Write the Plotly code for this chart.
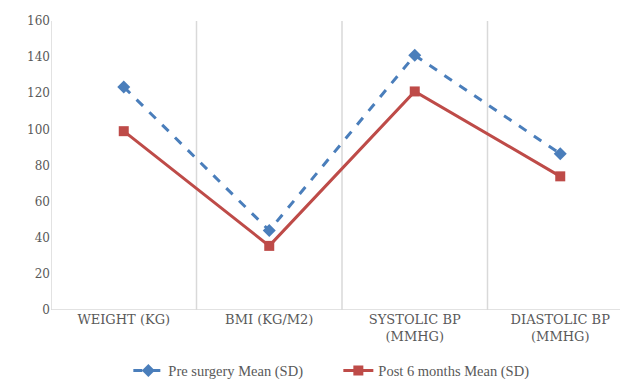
import plotly.graph_objects as go

categories = ["WEIGHT (KG)", "BMI (KG/M2)", "SYSTOLIC BP<br>(MMHG)", "DIASTOLIC BP<br>(MMHG)"]
pre_surgery = [123.5, 44, 141, 86.5]
post_6_months = [99, 35.5, 121, 74]
y_ticks = [0, 20, 40, 60, 80, 100, 120, 140, 160]

x_idx = list(range(len(categories)))

fig = go.Figure()
fig.add_trace(go.Scatter(
    x=x_idx, y=pre_surgery, mode="lines+markers", name="Pre surgery Mean (SD)",
    line=dict(color="#4a7ebb", width=3, dash="dash"),
    marker=dict(symbol="diamond", size=10, color="#4a7ebb"),
))
fig.add_trace(go.Scatter(
    x=x_idx, y=post_6_months, mode="lines+markers", name="Post 6 months Mean (SD)",
    line=dict(color="#be4b48", width=3),
    marker=dict(symbol="square", size=10, color="#be4b48"),
))

# category separator gridlines
for b in [-0.5, 0.5, 1.5, 2.5]:
    fig.add_shape(type="line", xref="x", yref="y", x0=b, x1=b, y0=0, y1=160,
                  line=dict(color="#d9d9d9", width=1.5), layer="below")
fig.add_shape(type="line", xref="x", yref="y", x0=-0.5, x1=3.5, y0=0, y1=0,
              line=dict(color="#d9d9d9", width=1.5), layer="below")

fig.update_layout(
    width=620, height=379,
    margin=dict(l=51, r=0, t=21, b=69, autoexpand=False),
    plot_bgcolor="white", paper_bgcolor="white",
    font=dict(family="DejaVu Serif", color="#595959", size=12),
    xaxis=dict(
        range=[-0.5, -0.5 + 569 / 145.5], automargin=False,
        tickmode="array", tickvals=x_idx, ticktext=categories,
        showgrid=False, zeroline=False, showline=False, ticks="",
        tickfont=dict(family="DejaVu Serif", size=13, color="#595959"),
    ),
    yaxis=dict(
        range=[0, 160], tickmode="array", tickvals=y_ticks, automargin=False,
        showgrid=False, zeroline=False, showline=False, ticks="",
        tickfont=dict(family="DejaVu Serif", size=12, color="#595959"),
    ),
    legend=dict(
        orientation="h", x=0.505, xanchor="center", y=-0.21, yanchor="middle",
        font=dict(family="Liberation Serif", size=14.5, color="#595959"),
        entrywidth=165, entrywidthmode="pixels",
    ),
    showlegend=True,
)

fig.write_html("out.html", config={"displayModeBar": False},
               post_script="document.body.style.margin='0';")
